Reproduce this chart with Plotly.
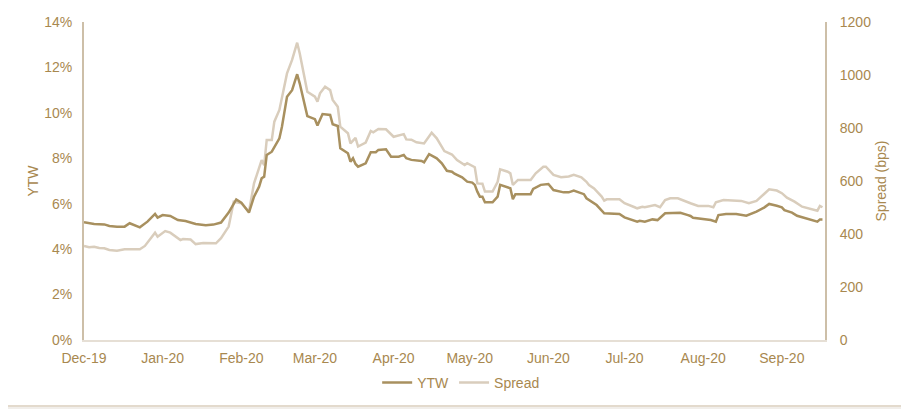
import plotly.graph_objects as go

# ---------------- data ----------------
ytw_dates = [
    "2019-12-01", "2019-12-05", "2019-12-09", "2019-12-11", "2019-12-14", "2019-12-17", "2019-12-19",
    "2019-12-21", "2019-12-23", "2019-12-26", "2019-12-29", "2019-12-30", "2020-01-01", "2020-01-04",
    "2020-01-07", "2020-01-10", "2020-01-14", "2020-01-18", "2020-01-21", "2020-01-24", "2020-01-27",
    "2020-01-30", "2020-02-01", "2020-02-04", "2020-02-06", "2020-02-08", "2020-02-09", "2020-02-10",
    "2020-02-11", "2020-02-13", "2020-02-16", "2020-02-17", "2020-02-19", "2020-02-21", "2020-02-23",
    "2020-02-24", "2020-02-27", "2020-03-01", "2020-03-02", "2020-03-04", "2020-03-07", "2020-03-08",
    "2020-03-10", "2020-03-11", "2020-03-14", "2020-03-15", "2020-03-16", "2020-03-17", "2020-03-18",
    "2020-03-21", "2020-03-23", "2020-03-25", "2020-03-26", "2020-03-29", "2020-03-31", "2020-04-03",
    "2020-04-05", "2020-04-06", "2020-04-08", "2020-04-12", "2020-04-13", "2020-04-15", "2020-04-18",
    "2020-04-20", "2020-04-22", "2020-04-24", "2020-04-25", "2020-04-28", "2020-04-30", "2020-05-02",
    "2020-05-03", "2020-05-04", "2020-05-05", "2020-05-06", "2020-05-07", "2020-05-10", "2020-05-12",
    "2020-05-13", "2020-05-15", "2020-05-17", "2020-05-18", "2020-05-19", "2020-05-22", "2020-05-25",
    "2020-05-26", "2020-05-29", "2020-06-01", "2020-06-03", "2020-06-07", "2020-06-09", "2020-06-11",
    "2020-06-14", "2020-06-15", "2020-06-16", "2020-06-20", "2020-06-23", "2020-06-27", "2020-06-29",
    "2020-07-01", "2020-07-05", "2020-07-06", "2020-07-07", "2020-07-09", "2020-07-12", "2020-07-14",
    "2020-07-17", "2020-07-20", "2020-07-22", "2020-07-23", "2020-07-26", "2020-07-27", "2020-07-28",
    "2020-07-30", "2020-08-01", "2020-08-04", "2020-08-06", "2020-08-07", "2020-08-10", "2020-08-14",
    "2020-08-18", "2020-08-22", "2020-08-25", "2020-08-27", "2020-08-30", "2020-09-01", "2020-09-02",
    "2020-09-05", "2020-09-07", "2020-09-10", "2020-09-13", "2020-09-15", "2020-09-16", "2020-09-17",
]
ytw_values = [
    5.18, 5.11, 5.09, 5.02, 4.99, 4.99, 5.14,
    5.05, 4.96, 5.21, 5.55, 5.39, 5.50, 5.46,
    5.28, 5.24, 5.11, 5.05, 5.08, 5.17, 5.61,
    6.19, 6.05, 5.61, 6.31, 6.75, 7.12, 7.19,
    8.15, 8.29, 8.88, 9.39, 10.71, 11.00, 11.70,
    11.30, 9.86, 9.72, 9.44, 9.95, 9.91, 9.50,
    9.42, 8.44, 8.22, 7.85, 8.00, 7.75, 7.63,
    7.78, 8.27, 8.27, 8.37, 8.40, 8.07, 8.07,
    8.15, 8.00, 7.93, 7.88, 7.82, 8.18, 8.00,
    7.78, 7.45, 7.41, 7.32, 7.16, 6.97, 6.93,
    6.83, 6.53, 6.31, 6.31, 6.06, 6.06, 6.31,
    6.83, 6.75, 6.68, 6.20, 6.42, 6.42, 6.42,
    6.65, 6.83, 6.87, 6.60, 6.50, 6.50, 6.58,
    6.46, 6.42, 6.24, 5.94, 5.58, 5.58, 5.55,
    5.40, 5.25, 5.21, 5.25, 5.21, 5.31, 5.28,
    5.58, 5.60, 5.58, 5.60, 5.50, 5.46, 5.38,
    5.36, 5.33, 5.28, 5.21, 5.50, 5.55, 5.55,
    5.47, 5.65, 5.83, 5.99, 5.91, 5.84, 5.72,
    5.61, 5.47, 5.36, 5.25, 5.21, 5.31, 5.31,
]

spread_dates = [
    "2019-12-01", "2019-12-03", "2019-12-05", "2019-12-07", "2019-12-09", "2019-12-11", "2019-12-14",
    "2019-12-17", "2019-12-22", "2019-12-23", "2019-12-25", "2019-12-29", "2019-12-30", "2020-01-02",
    "2020-01-04", "2020-01-08", "2020-01-09", "2020-01-12", "2020-01-14", "2020-01-17", "2020-01-22",
    "2020-01-24", "2020-01-27", "2020-01-29", "2020-02-01", "2020-02-04", "2020-02-06", "2020-02-08",
    "2020-02-09", "2020-02-10", "2020-02-11", "2020-02-13", "2020-02-14", "2020-02-16", "2020-02-19",
    "2020-02-21", "2020-02-23", "2020-02-24", "2020-02-27", "2020-03-01", "2020-03-02", "2020-03-03",
    "2020-03-05", "2020-03-07", "2020-03-08", "2020-03-10", "2020-03-11", "2020-03-14", "2020-03-15",
    "2020-03-17", "2020-03-18", "2020-03-21", "2020-03-23", "2020-03-24", "2020-03-26", "2020-03-29",
    "2020-04-01", "2020-04-05", "2020-04-06", "2020-04-08", "2020-04-10", "2020-04-13", "2020-04-16",
    "2020-04-18", "2020-04-21", "2020-04-24", "2020-04-26", "2020-04-29", "2020-04-30", "2020-05-03",
    "2020-05-04", "2020-05-06", "2020-05-07", "2020-05-10", "2020-05-12", "2020-05-13", "2020-05-16",
    "2020-05-17", "2020-05-18", "2020-05-20", "2020-05-25", "2020-05-27", "2020-05-30", "2020-05-31",
    "2020-06-03", "2020-06-06", "2020-06-09", "2020-06-11", "2020-06-14", "2020-06-16", "2020-06-17",
    "2020-06-19", "2020-06-22", "2020-06-23", "2020-06-24", "2020-06-29", "2020-07-01", "2020-07-05",
    "2020-07-06", "2020-07-08", "2020-07-09", "2020-07-13", "2020-07-15", "2020-07-17", "2020-07-19",
    "2020-07-22", "2020-07-25", "2020-07-27", "2020-07-30", "2020-08-03", "2020-08-05", "2020-08-06",
    "2020-08-09", "2020-08-13", "2020-08-16", "2020-08-19", "2020-08-22", "2020-08-25", "2020-08-27",
    "2020-08-30", "2020-09-01", "2020-09-03", "2020-09-06", "2020-09-09", "2020-09-13", "2020-09-15",
    "2020-09-16", "2020-09-17",
]
spread_values = [
    355, 350, 352, 347, 346, 340, 337,
    342, 342, 342, 355, 405, 390, 411,
    405, 377, 381, 379, 362, 366, 365,
    384, 428, 522, 516, 484, 591, 654,
    679, 660, 755, 755, 824, 868, 1006,
    1057, 1122, 1082, 937, 918, 899, 931,
    956, 943, 906, 880, 805, 780, 742,
    763, 730, 745, 789, 784, 796, 795,
    767, 777, 757, 756, 746, 742, 782,
    761, 713, 700, 679, 660, 667, 652,
    591, 590, 560, 560, 597, 644, 635,
    629, 585, 604, 604, 629, 654, 654,
    623, 614, 617, 623, 614, 597, 585,
    572, 541, 526, 531, 531, 516, 501,
    497, 503, 501, 509, 501, 528, 535,
    535, 522, 516, 506, 506, 501, 520,
    528, 525, 525, 516, 525, 551, 569,
    564, 554, 537, 522, 503, 493, 488,
    506, 501,
]

ytw_ticks = [0, 2, 4, 6, 8, 10, 12, 14]
ytw_tick_labels = ["0%", "2%", "4%", "6%", "8%", "10%", "12%", "14%"]
spread_ticks = [0, 200, 400, 600, 800, 1000, 1200]

# ---------------- style ----------------
TEXT = "#A8884F"
YTW_COLOR = "#A8905F"
SPREAD_COLOR = "#D9CDBC"
AXIS_LINE = "#CDBFA8"
FONT = "Liberation Sans, Arial, sans-serif"

# the page body has an 8px margin, so the figure is placed at (8, 8)
W, H = 901, 401
L, T = 76, 14
PW, PH = 741, 318

fig = go.Figure()

fig.add_trace(go.Scatter(
    x=spread_dates, y=spread_values, name="Spread", mode="lines",
    line=dict(color=SPREAD_COLOR, width=2.5), yaxis="y", legendrank=2,
))
fig.add_trace(go.Scatter(
    x=ytw_dates, y=ytw_values, name="YTW", mode="lines",
    line=dict(color=YTW_COLOR, width=2.5), yaxis="y2", legendrank=1,
))

# frame around the chart (figure px coordinates converted to paper)
fig.add_shape(
    type="rect", xref="paper", yref="paper", layer="below",
    x0=(-2 - L) / PW, x1=(910 - L) / PW,
    y0=(T + PH - 398) / PH, y1=(T + PH + 5) / PH,
    fillcolor="white", line=dict(color="#E3DACD", width=2),
)

fig.update_layout(
    width=W, height=H,
    margin=dict(l=L, r=W - L - PW, t=T, b=H - T - PH, autoexpand=False),
    paper_bgcolor="#F1EEEA",
    plot_bgcolor="rgba(0,0,0,0)",
    font=dict(family=FONT, size=14, color=TEXT),
    showlegend=True,
    legend=dict(orientation="h", x=0.509, xanchor="center", y=-0.135, yanchor="middle",
                font=dict(size=14, color=TEXT), bgcolor="rgba(0,0,0,0)",
                traceorder="normal", itemwidth=30),
    xaxis=dict(
        type="date", range=["2019-12-01", "2020-09-18"], automargin=False,
        tick0="2019-12-01", dtick="M1", tickformat="%b-%y",
        showgrid=False, zeroline=False, showline=True, linecolor="#E6DFD5", linewidth=2,
        ticks="", ticklabelstandoff=4, tickfont=dict(size=14, color=TEXT),
    ),
    yaxis=dict(
        side="right", range=[0, 1200], tickvals=spread_ticks, automargin=False,
        showgrid=False, zeroline=False, showline=True, linecolor=AXIS_LINE, linewidth=2,
        ticks="", ticklabelstandoff=10, tickfont=dict(size=14, color=TEXT),
        title=dict(text="Spread (bps)", font=dict(size=14, color=TEXT), standoff=6),
    ),
    yaxis2=dict(
        overlaying="y", side="left", range=[0, 14], automargin=False,
        tickvals=ytw_ticks, ticktext=ytw_tick_labels,
        showgrid=False, zeroline=False, showline=True, linecolor=AXIS_LINE, linewidth=2,
        ticks="", ticklabelstandoff=7, tickfont=dict(size=14, color=TEXT),
        title=dict(text="YTW", font=dict(size=14, color=TEXT), standoff=2),
    ),
)

fig.write_html("out.html")
